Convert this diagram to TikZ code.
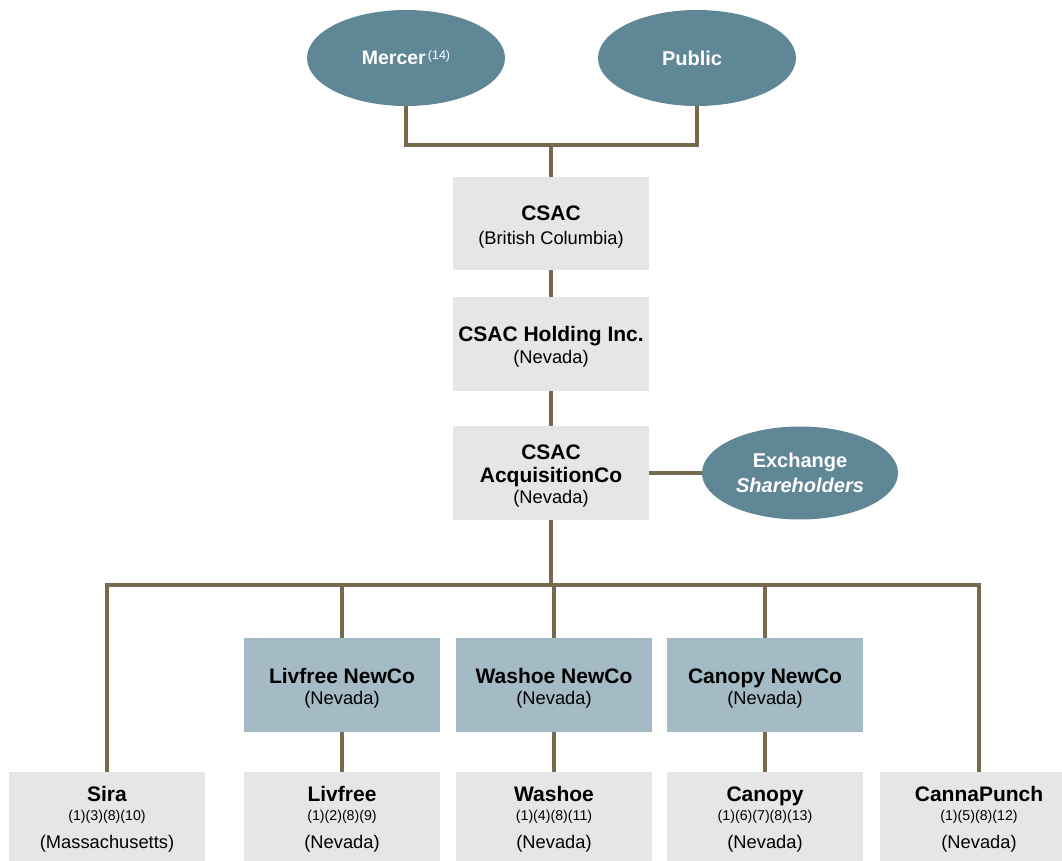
\documentclass[tikz,border=0pt]{standalone}
\usepackage{fontspec}
\setmainfont{Liberation Sans}
\usetikzlibrary{shapes.geometric}
\definecolor{ovalC}{HTML}{5F8796}
\definecolor{newco}{HTML}{A4BAC4}
\definecolor{boxgray}{HTML}{E6E6E6}
\definecolor{lineC}{HTML}{76694E}
\newcommand\nm[1]{{\bfseries\fontsize{21}{24}\selectfont\rule{0pt}{21pt}#1}}
\newcommand\fn[1]{{\fontsize{14.2}{16}\selectfont #1}}
\begin{document}
\begin{tikzpicture}[x=1pt,y=-1pt,
  conn/.style={draw=lineC, line width=3.5pt},
  gbox/.style={fill=boxgray, minimum width=196pt, minimum height=94pt, inner sep=0pt, align=center, font=\fontsize{18.3}{24}\selectfont},
  nbox/.style={gbox, fill=newco},
  bbox/.style={gbox, minimum height=89pt},
  oval/.style={ellipse, fill=ovalC, text=white, inner sep=0pt, minimum width=198pt, minimum height=96pt, align=center, font=\bfseries\fontsize{20}{25}\selectfont}]
\useasboundingbox (0,0) rectangle (1062,861);
% ovals
\node[oval, font=\bfseries\fontsize{19.5}{25}\selectfont] (mercer) at (406,58) {Mercer\raisebox{5pt}{\mdseries\fontsize{12.5}{12}\selectfont\,(14)}};
\node[oval] (public) at (697,58) {\hspace*{-10pt}Public};
% main chain
\node[gbox, minimum height=93pt] (csac) at (551,223.5) {\nm{CSAC}\\(British Columbia)};
\node[gbox] (hold) at (551,344) {\nm{CSAC Holding Inc.}\\[-2pt](Nevada)};
\node[gbox] (acq) at (551,473) {\nm{CSAC}\\[-1pt]\nm{AcquisitionCo}\\[-3pt](Nevada)};
\node[oval, minimum width=196pt, minimum height=93pt] (exch) at (800,473) {Exchange\\\textit{Shareholders}};
% NewCos
\node[nbox] (livN) at (342,685) {\nm{Livfree NewCo}\\[-3pt](Nevada)};
\node[nbox] (washN) at (554,685) {\nm{Washoe NewCo}\\[-3pt](Nevada)};
\node[nbox] (canN) at (765,685) {\nm{Canopy NewCo}\\[-3pt](Nevada)};
% bottom
\node[bbox] (sira) at (107,816.5) {\nm{Sira}\\[-5pt]\fn{(1)(3)(8)(10)}\\[4pt](Massachusetts)};
\node[bbox] (liv) at (342,816.5) {\nm{Livfree}\\[-5pt]\fn{(1)(2)(8)(9)}\\[4pt](Nevada)};
\node[bbox] (wash) at (554,816.5) {\nm{Washoe}\\[-5pt]\fn{(1)(4)(8)(11)}\\[4pt](Nevada)};
\node[bbox] (can) at (765,816.5) {\nm{Canopy}\\[-5pt]\fn{(1)(6)(7)(8)(13)}\\[4pt](Nevada)};
\node[bbox, minimum width=182pt] (canna) at (971,816.5) {\hspace*{16pt}\nm{CannaPunch}\\[-5pt]\hspace*{16pt}\fn{(1)(5)(8)(12)}\\[4pt]\hspace*{16pt}(Nevada)};
% junctions
\coordinate (topj) at (551,145);
\coordinate (bus) at (551,585);
\coordinate (cannatap) at ([xshift=8pt]canna.north);
% connectors
\draw[conn] (mercer.south) -- (mercer.south |- topj) -- (public.south |- topj) -- (public.south);
\draw[conn] (topj) -- (csac.north);
\draw[conn] (csac.south) -- (hold.north);
\draw[conn] (hold.south) -- (acq.north);
\draw[conn] (acq.east) -- (exch.west);
\draw[conn] (acq.south) -- (bus);
\draw[conn] (sira.north) -- (sira.north |- bus) -- (cannatap |- bus) -- (cannatap);
\draw[conn] (livN.north |- bus) -- (livN.north);
\draw[conn] (washN.north |- bus) -- (washN.north);
\draw[conn] (canN.north |- bus) -- (canN.north);
\draw[conn] (livN.south) -- (liv.north);
\draw[conn] (washN.south) -- (wash.north);
\draw[conn] (canN.south) -- (can.north);
\end{tikzpicture}
\end{document}
